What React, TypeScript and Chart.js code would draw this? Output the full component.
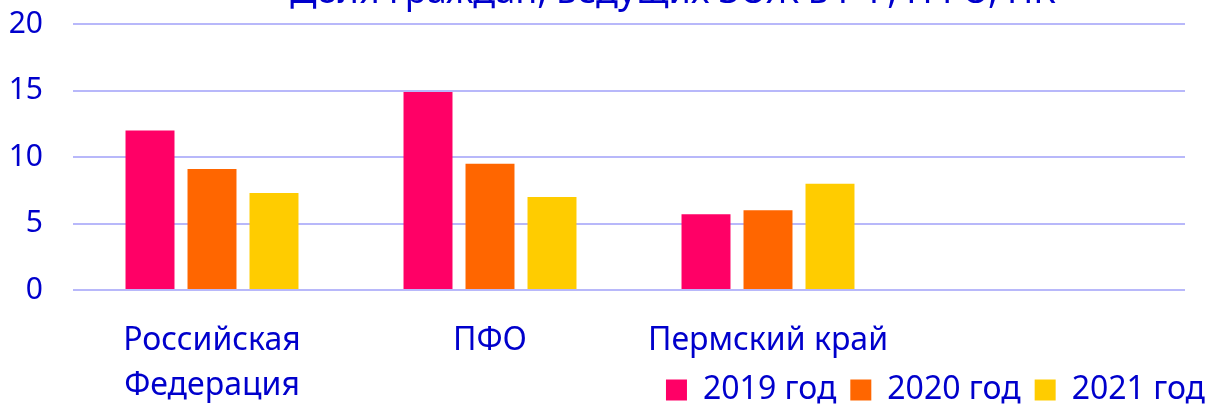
import React, { useEffect, useRef } from "react";
import { Chart, registerables } from "chart.js";

Chart.register(...registerables);

const categories: (string | string[])[] = [["Российская", "Федерация"], "ПФО", "Пермский край", ""];
const seriesNames = ["2019 год", "2020 год", "2021 год"];
const values2019 = [12.0, 14.9, 5.7, null];
const values2020 = [9.1, 9.5, 6.0, null];
const values2021 = [7.3, 7.0, 8.0, null];
const seriesColors = ["#FF0066", "#FF6600", "#FFCC00"];
const titleText = "Доля граждан, ведущих ЗОЖ в РФ, ПФО, ПК";
const yTicks = [0, 5, 10, 15, 20];

const FONT = "'Noto Sans', 'Open Sans', sans-serif";
const TEXT_COLOR = "#0000CC";
const GRID_COLOR = "#B8B8FA";

const TOP_OFFSET = 40;
const TITLE_CENTER_X = 673;
const LEGEND_RIGHT = 1219;
const LEGEND_TOP = 400;
const LEGEND_HEIGHT = 60;

const placeBoxes = {
  id: "placeBoxes",
  afterLayout(chart: any) {
    const t = chart.titleBlock;
    if (t) {
      const w = t.right - t.left;
      t.left = TITLE_CENTER_X - w / 2;
      t.right = TITLE_CENTER_X + w / 2;
    }
    const l = chart.legend;
    if (l) {
      const w = l.right - l.left;
      l.right = LEGEND_RIGHT;
      l.left = LEGEND_RIGHT - w;
      l.top = LEGEND_TOP;
      l.bottom = LEGEND_TOP + LEGEND_HEIGHT;
      l.height = LEGEND_HEIGHT;
    }
  },
};

export default function App() {
  const ref = useRef<HTMLCanvasElement | null>(null);

  useEffect(() => {
    if (!ref.current) return;
    const data = [values2019, values2020, values2021];
    const chart = new Chart(ref.current, {
      type: "bar",
      data: {
        labels: categories,
        datasets: seriesNames.map((name, i) => ({
          label: name,
          data: data[i],
          backgroundColor: seriesColors[i],
          borderWidth: 0,
          categoryPercentage: 0.669,
          barPercentage: 0.79,
        })),
      },
      options: {
        animation: false,
        responsive: true,
        maintainAspectRatio: false,
        layout: { padding: { left: 0, right: 23, top: 0, bottom: 0 } },
        plugins: {
          title: {
            display: true,
            text: titleText,
            color: TEXT_COLOR,
            font: { family: FONT, size: 36, weight: "normal", lineHeight: 1.2 },
            padding: { top: 11, bottom: 10 },
          },
          legend: {
            display: true,
            position: "bottom",
            align: "end",
            maxHeight: 1,
            labels: {
              color: TEXT_COLOR,
              font: { family: FONT, size: 32 },
              boxWidth: 21,
              boxHeight: 21,
              padding: 14,
            },
          },
          tooltip: { enabled: false },
        },
        scales: {
          x: {
            grid: { display: false, drawTicks: false },
            border: { display: false },
            ticks: {
              color: TEXT_COLOR,
              font: { family: FONT, size: 32, lineHeight: 1.39 },
              padding: 29,
              maxRotation: 0,
              autoSkip: false,
            },
            afterFit: (scale: any) => {
              scale.height = 114;
            },
          },
          y: {
            min: 0,
            max: 20,
            grid: { color: GRID_COLOR, lineWidth: 2, drawTicks: false },
            border: { display: false },
            afterBuildTicks: (scale: any) => {
              scale.ticks = yTicks.map((v) => ({ value: v }));
            },
            ticks: {
              color: TEXT_COLOR,
              font: { family: FONT, size: 30 },
              padding: 30,
            },
            afterFit: (scale: any) => {
              scale.width = 73;
            },
          },
        },
      },
      plugins: [placeBoxes],
    });
    return () => chart.destroy();
  }, []);

  return (
    <div
      style={{
        position: "absolute",
        left: 0,
        top: -TOP_OFFSET,
        width: 1208,
        height: 405 + TOP_OFFSET,
      }}
    >
      <canvas ref={ref} />
    </div>
  );
}
